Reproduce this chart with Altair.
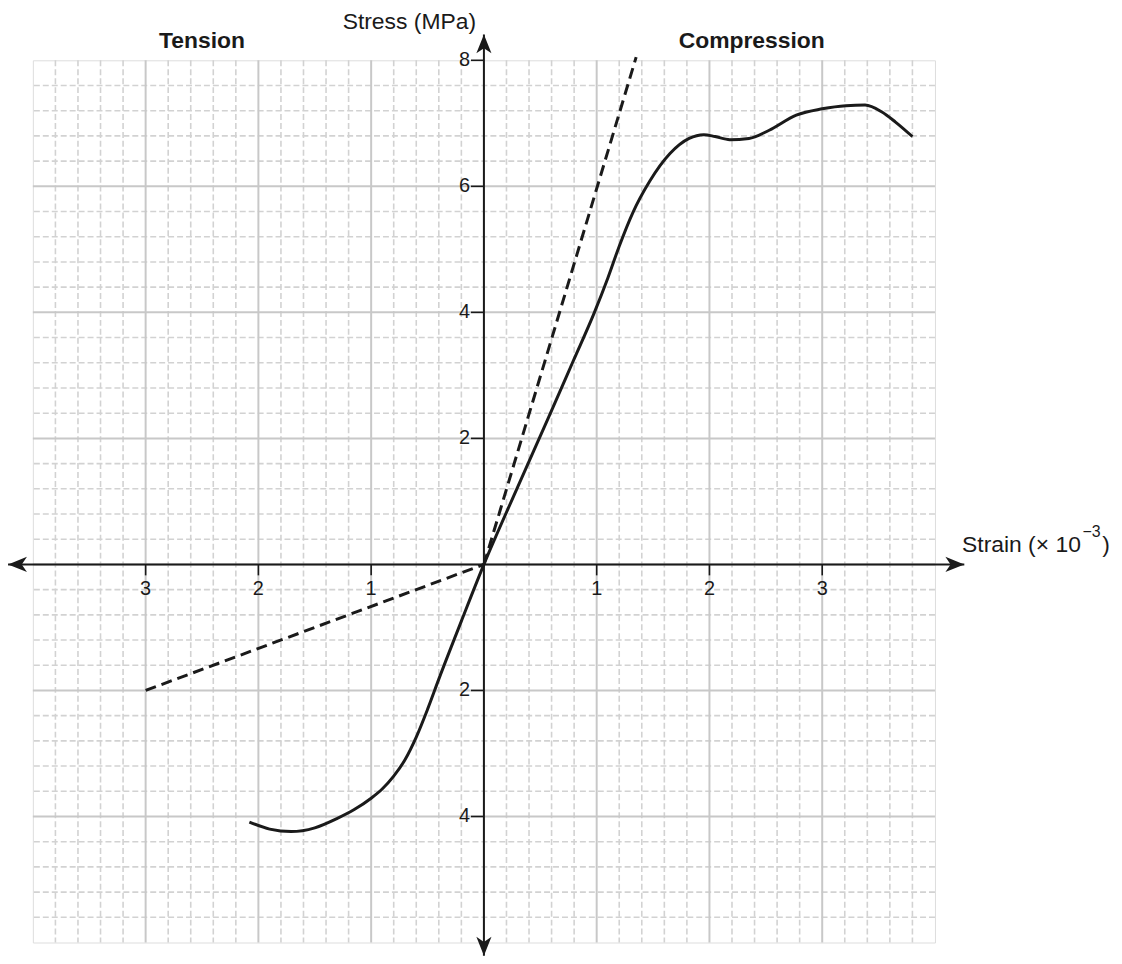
import altair as alt
import pandas as pd
import numpy as np

# ---------------- data ----------------
strain = [-2.08, -1.9, -1.71, -1.5, -1.3, -1.15, -1.0, -0.9, -0.8, -0.7, -0.6, -0.5, -0.4, -0.2, 0.0,
          0.3, 0.59, 0.79, 0.98, 1.1, 1.2, 1.32, 1.47, 1.65, 1.82, 1.95, 2.05, 2.18, 2.35,
          2.53, 2.77, 3.0, 3.21, 3.38, 3.53, 3.65, 3.80]
stress = [-4.09, -4.2, -4.24, -4.18, -4.03, -3.89, -3.71, -3.56, -3.36, -3.1, -2.74, -2.3, -1.82, -0.9, 0.0,
          1.23, 2.40, 3.22, 4.0, 4.55, 5.05, 5.58, 6.08, 6.52, 6.76, 6.82, 6.79, 6.74, 6.76,
          6.89, 7.13, 7.23, 7.28, 7.29, 7.18, 7.02, 6.79]

comp_tangent_x = [0.0, 1.35]
comp_tangent_y = [0.0, 8.05]
tens_tangent_x = [-3.0, 0.0]
tens_tangent_y = [-2.0, 0.0]

x_tick_values = [-3, -2, -1, 1, 2, 3]
y_tick_values = [-4, -2, 2, 4, 6, 8]

X_DOMAIN = [-4, 4]
Y_DOMAIN = [-6, 8]

# ---------------- scales / helpers ----------------
xs = alt.Scale(domain=X_DOMAIN, nice=False, zero=False)
ys = alt.Scale(domain=Y_DOMAIN, nice=False, zero=False)


def X(f, **kw):
    return alt.X(f, type="quantitative", scale=xs, axis=None, **kw)


def Y(f, **kw):
    return alt.Y(f, type="quantitative", scale=ys, axis=None, **kw)


FONT = "Liberation Sans"
INK = "#1a1a1a"

# grid positions (0.2 strain minor, 1 major; 0.4 MPa minor, 2 major)
gx = np.round(np.arange(-4, 4.0001, 0.2), 2)
minor_x = [float(v) for v in gx if abs(v - round(v)) > 1e-6]
major_x = [float(v) for v in range(-3, 4)]
gy = np.round(np.arange(-6, 8.0001, 0.4), 2)
minor_y = [float(v) for v in gy if abs(v / 2 - round(v / 2)) > 1e-6]
major_y = [-4.0, -2.0, 0.0, 2.0, 4.0, 6.0]

grid_minor_v = alt.Chart(pd.DataFrame({"x": minor_x})).mark_rule(
    color="#d2d2d2", strokeWidth=1.6, strokeDash=[6, 3]).encode(x=X("x"))
grid_minor_h = alt.Chart(pd.DataFrame({"y": minor_y})).mark_rule(
    color="#d2d2d2", strokeWidth=1.6, strokeDash=[6, 3]).encode(y=Y("y"))
grid_major_v = alt.Chart(pd.DataFrame({"x": major_x})).mark_rule(
    color="#c8c8c8", strokeWidth=2).encode(x=X("x"))
grid_major_h = alt.Chart(pd.DataFrame({"y": major_y})).mark_rule(
    color="#c8c8c8", strokeWidth=2).encode(y=Y("y"))

# ---------------- axes with arrows ----------------
axes_df = pd.DataFrame({
    "x1": [-4.22, 0.0], "x2": [4.26, 0.0],
    "y1": [0.0, -6.21], "y2": [0.0, 8.41],
})
axes = alt.Chart(axes_df).mark_rule(color=INK, strokeWidth=2).encode(
    x=X("x1"), x2="x2", y=Y("y1"), y2="y2")

arrow_df = pd.DataFrame({
    "x": [4.26, -4.22, 0.0, 0.0],
    "y": [0.0, 0.0, 8.41, -6.21],
    "shape": [
        "M0,0 L-2,-0.8 L-1.45,0 L-2,0.8 Z",
        "M0,0 L2,-0.8 L1.45,0 L2,0.8 Z",
        "M0,0 L-0.8,2 L0,1.45 L0.8,2 Z",
        "M0,0 L-0.8,-2 L0,-1.45 L0.8,-2 Z",
    ],
})
arrows = alt.Chart(arrow_df).mark_point(
    filled=True, color=INK, opacity=1, size=361, strokeWidth=0).encode(
    x=X("x"), y=Y("y"), shape=alt.Shape("shape:N", scale=None, legend=None))

xt_df = pd.DataFrame({"x": x_tick_values, "z": [0] * len(x_tick_values),
                      "lab": [str(abs(v)) for v in x_tick_values]})
yt_df = pd.DataFrame({"y": y_tick_values, "z": [0] * len(y_tick_values),
                      "lab": [str(abs(v)) for v in y_tick_values]})

x_ticks = alt.Chart(xt_df).mark_rule(color=INK, strokeWidth=1.6, y2Offset=11).encode(
    x=X("x"), y=Y("z"), y2="z")
y_ticks = alt.Chart(yt_df).mark_rule(color=INK, strokeWidth=1.6, x2Offset=-13).encode(
    y=Y("y"), x=X("z"), x2="z")

x_labels = alt.Chart(xt_df).mark_text(
    font=FONT, fontSize=20, color=INK, align="center", baseline="middle", dy=25).encode(
    x=X("x"), y=Y("z"), text="lab:N")
y_labels = alt.Chart(yt_df).mark_text(
    font=FONT, fontSize=20, color=INK, align="right", baseline="middle", dx=-14).encode(
    x=X("z"), y=Y("y"), text="lab:N")

# ---------------- curves ----------------
curve = alt.Chart(pd.DataFrame({"x": strain, "y": stress})).mark_line(
    color=INK, strokeWidth=3, interpolate="monotone").encode(
    x=X("x"), y=Y("y"), order="x:Q")

tan_c = alt.Chart(pd.DataFrame({"x": comp_tangent_x, "y": comp_tangent_y})).mark_line(
    color=INK, strokeWidth=3, strokeDash=[11, 6]).encode(x=X("x"), y=Y("y"))
tan_t = alt.Chart(pd.DataFrame({"x": tens_tangent_x, "y": tens_tangent_y})).mark_line(
    color=INK, strokeWidth=3, strokeDash=[11, 6]).encode(x=X("x"), y=Y("y"))

# ---------------- annotations ----------------
titles = alt.Chart(pd.DataFrame({"x": [-2.5, 2.375], "y": [8.2, 8.19],
                                 "t": ["Tension", "Compression"]})).mark_text(
    font=FONT, fontSize=23, fontWeight="bold", color=INK, align="center",
    baseline="alphabetic").encode(x=X("x"), y=Y("y"), text="t:N")

stress_title = alt.Chart(pd.DataFrame({"x": [-0.07], "y": [8.5], "t": ["Stress (MPa)"]})).mark_text(
    font=FONT, fontSize=23, color=INK, align="right", baseline="alphabetic").encode(
    x=X("x"), y=Y("y"), text="t:N")

sx, sy = 4.24, 0.194
strain_main = alt.Chart(pd.DataFrame({"x": [sx], "y": [sy], "t": ["Strain (× 10"]})).mark_text(
    font=FONT, fontSize=23, color=INK, align="left", baseline="alphabetic").encode(
    x=X("x"), y=Y("y"), text="t:N")
strain_sup = alt.Chart(pd.DataFrame({"x": [sx], "y": [sy], "t": ["−3"]})).mark_text(
    font=FONT, fontSize=16, color=INK, align="left", baseline="alphabetic", dx=121, dy=-15).encode(
    x=X("x"), y=Y("y"), text="t:N")
strain_close = alt.Chart(pd.DataFrame({"x": [sx], "y": [sy], "t": [")"]})).mark_text(
    font=FONT, fontSize=23, color=INK, align="left", baseline="alphabetic", dx=141).encode(
    x=X("x"), y=Y("y"), text="t:N")

chart = alt.layer(
    grid_minor_v, grid_minor_h, grid_major_v, grid_major_h,
    axes, x_ticks, y_ticks,
    tan_c, tan_t, curve,
    x_labels, y_labels, titles, stress_title,
    strain_main, strain_sup, strain_close,
    arrows,
).properties(
    width=907, height=887,
    padding={"left": 25, "top": 50, "right": 180, "bottom": 14},
    autosize=alt.AutoSizeParams(type="none"),
).configure_view(
    stroke="#c4c4c4", strokeWidth=3
).configure(background="white")

chart.save("out.html", embed_options={"renderer": "svg", "actions": False})
